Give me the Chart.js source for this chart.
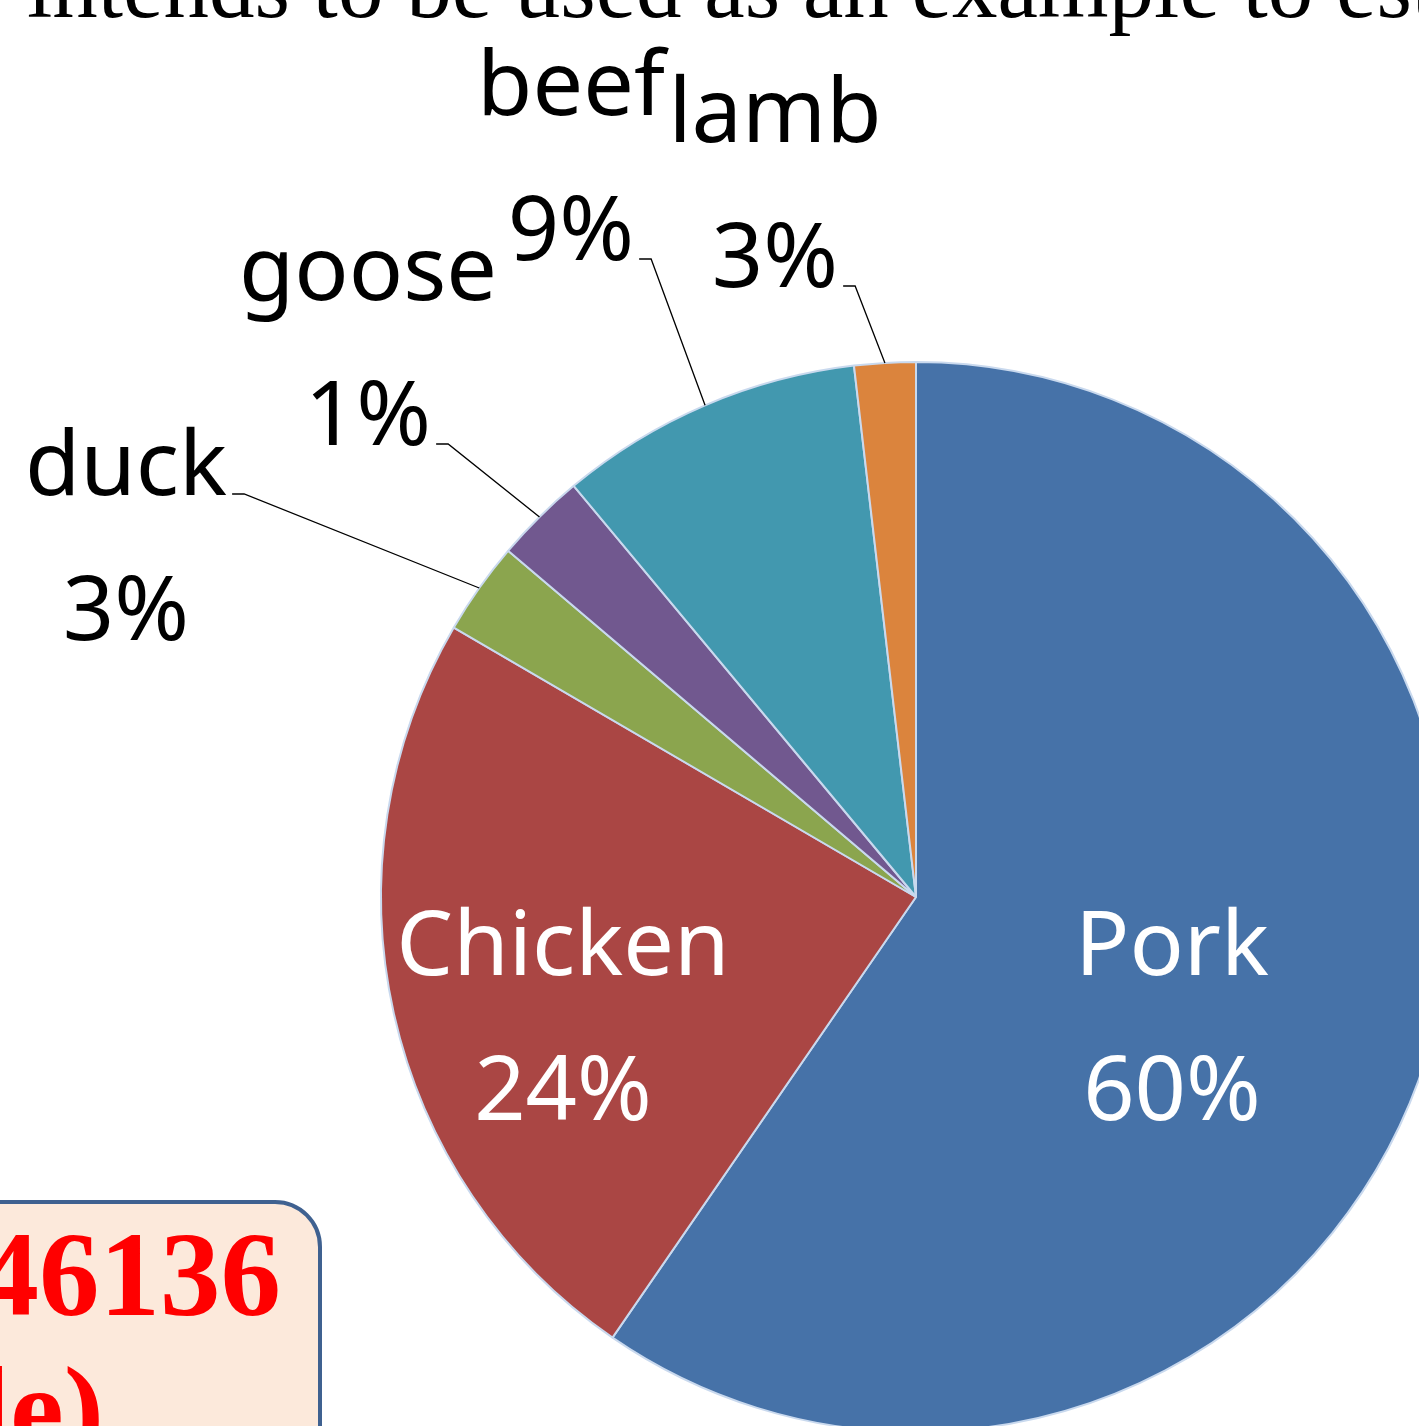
<!DOCTYPE html>
<html>
<head>
<meta charset="utf-8">
<script src="https://cdn.jsdelivr.net/npm/chart.js@4.4.1/dist/chart.umd.min.js"></script>
<style>
  html, body { margin: 0; padding: 0; width: 1419px; height: 1426px; overflow: hidden; background: #ffffff; }
  #wrap { position: absolute; left: 0; top: 0; width: 1419px; height: 1426px; overflow: hidden; }
  #pie { position: absolute; left: 0; top: 0; }
  #deco { position: absolute; left: 0; top: 0; }
</style>
</head>
<body>
<div id="wrap">
  <canvas id="pie" width="1832" height="1794" style="width:1832px;height:1794px"></canvas>
  <svg id="deco" width="1419" height="1426" xmlns="http://www.w3.org/2000/svg">
    <text x="27" y="17" font-family="'Liberation Serif', 'Times New Roman', serif" font-size="91" fill="#000">intends to be used as an example to est</text>
    <rect x="-100" y="1202" width="420" height="400" rx="45" ry="45" fill="#FCE9DB" stroke="#3F6190" stroke-width="4"/>
    <text x="281" y="1315" text-anchor="end" font-family="'Liberation Serif', 'Times New Roman', serif" font-weight="bold" font-size="121" fill="#FF0000">46136</text>
    <text x="104" y="1450" text-anchor="end" font-family="'Liberation Serif', 'Times New Roman', serif" font-weight="bold" font-size="121" fill="#FF0000">le)</text>
  </svg>
</div>
<script>
// ---- data ----
const categories = ['Pork', 'Chicken', 'duck', 'goose', 'beef', 'lamb'];
const values = [59.6, 23.8, 2.8, 2.75, 9.2, 1.85];
const percentLabels = ['60%', '24%', '3%', '1%', '9%', '3%'];

// ---- styles ----
const sliceColors = ['#4672A8', '#AA4644', '#8BA54E', '#71588F', '#4298AF', '#DB843D'];
// label placement relative to pie centre (text block centre x, first baseline y)
const labelPlacement = [
  { dx: 256,  dy: 78,   color: '#ffffff', leader: null },
  { dx: -353, dy: 78,   color: '#ffffff', leader: null },
  { dx: -790, dy: -402, color: '#000000', leader: 0 },
  { dx: -548, dy: -597, color: '#000000', leader: 1 },
  { dx: -345, dy: -782, color: '#000000', leader: 1 },
  { dx: -141, dy: -755, color: '#000000', leader: 1 }
];
const LABEL_FONT = '90px "Noto Sans", "Open Sans", sans-serif';
const LINE_GAP = 145;

const sliceLabelPlugin = {
  id: 'sliceLabels',
  afterDatasetsDraw(chart) {
    const ctx = chart.ctx;
    const meta = chart.getDatasetMeta(0);
    ctx.save();
    ctx.font = LABEL_FONT;
    ctx.textAlign = 'center';
    ctx.textBaseline = 'alphabetic';
    meta.data.forEach((arc, i) => {
      const p = arc.getProps(['x', 'y', 'startAngle', 'endAngle', 'outerRadius'], true);
      const pl = labelPlacement[i];
      const cx = p.x + pl.dx;
      const lines = [categories[i], percentLabels[i]];
      lines.forEach((t, k) => {
        ctx.fillStyle = pl.color;
        ctx.fillText(t, cx, p.y + pl.dy + k * LINE_GAP);
      });
      if (pl.leader !== null) {
        const t = lines[pl.leader];
        const w = ctx.measureText(t).width;
        const sx = cx + w / 2 + 5;
        const sy = p.y + pl.dy + pl.leader * LINE_GAP - 1;
        const mid = (p.startAngle + p.endAngle) / 2;
        const ex = p.x + Math.cos(mid) * p.outerRadius;
        const ey = p.y + Math.sin(mid) * p.outerRadius;
        ctx.beginPath();
        ctx.strokeStyle = '#000000';
        ctx.lineWidth = 1.3;
        ctx.moveTo(sx, sy);
        ctx.lineTo(sx + 12, sy);
        ctx.lineTo(ex, ey);
        ctx.stroke();
      }
    });
    ctx.restore();
  }
};

new Chart(document.getElementById('pie'), {
  type: 'pie',
  data: {
    labels: categories,
    datasets: [{
      data: values,
      backgroundColor: sliceColors,
      borderColor: '#C9D9EE',
      borderWidth: 2
    }]
  },
  options: {
    responsive: false,
    animation: false,
    layout: { padding: { left: 380, right: 380, top: 361, bottom: 361 } },
    plugins: { legend: { display: false }, tooltip: { enabled: false } }
  },
  plugins: [sliceLabelPlugin]
});
</script>
</body>
</html>
